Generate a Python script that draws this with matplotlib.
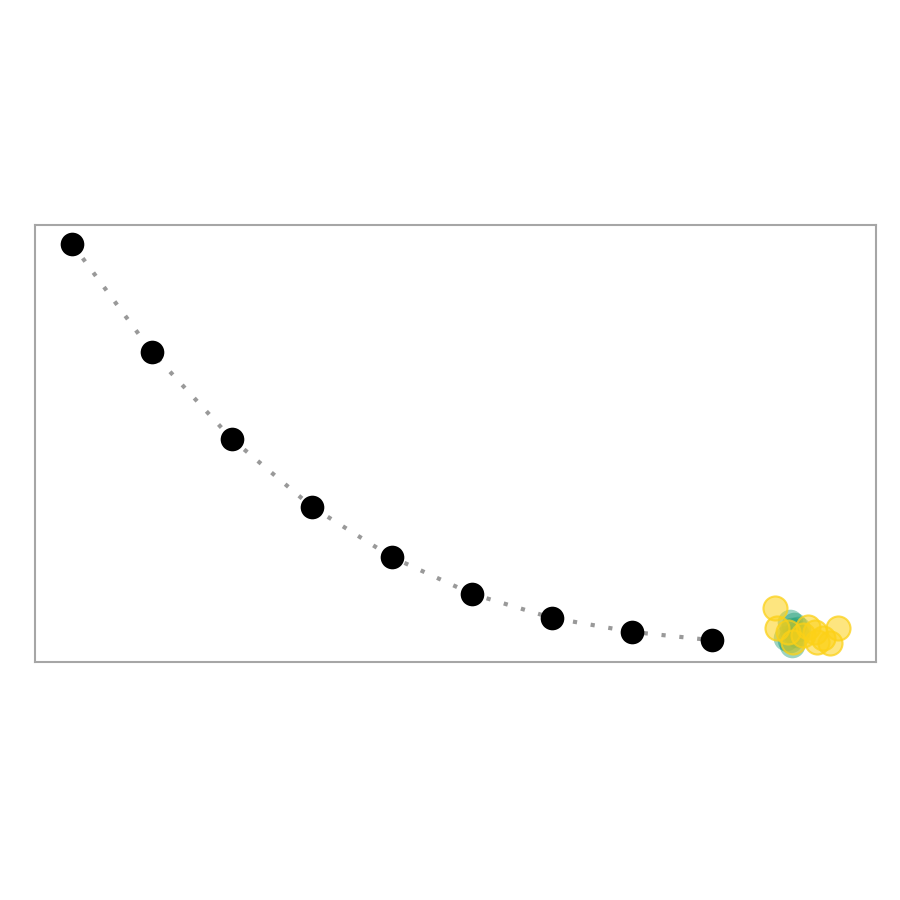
import matplotlib
matplotlib.use("Agg")
import matplotlib.pyplot as plt
import numpy as np

# Main trajectory (black points)
steps = [0, 1, 2, 3, 4, 5, 6, 7, 8]
values = [0.957, 0.709, 0.510, 0.355, 0.240, 0.156, 0.101, 0.069, 0.050]

# Cluster at the end: teal samples
teal_x = [8.975, 9.0, 9.0, 9.06, 8.925, 9.03, 8.98, 9.08]
teal_y = [0.092, 0.073, 0.040, 0.062, 0.055, 0.085, 0.050, 0.075]

# Cluster at the end: yellow samples
gold_x = [8.79, 8.81, 8.95, 9.01, 9.20, 9.29, 9.39, 9.475, 9.575, 9.31, 9.14]
gold_y = [0.124, 0.078, 0.069, 0.046, 0.080, 0.069, 0.055, 0.043, 0.078, 0.046, 0.062]

fig = plt.figure(figsize=(9, 9), dpi=100)
ax = fig.add_axes([0.039, 0.2644, 0.934, 0.4856])

ax.plot(steps, values, linestyle=(0, (1, 3.3)), color='#999999', linewidth=3,
        zorder=1)
ax.scatter(steps, values, s=290, color='black', zorder=3, linewidths=0)

ax.scatter(teal_x, teal_y, s=340, color='#229f78', alpha=0.45, linewidths=0, zorder=4)
ax.scatter(gold_x, gold_y, s=300, facecolor=(0.99, 0.82, 0.09, 0.55),
           edgecolor=(0.99, 0.82, 0.09, 0.75), linewidths=1.5, zorder=5)

ax.set_xlim(-0.4625, 10.05)
ax.set_ylim(0, 1.0)
ax.set_xticks([])
ax.set_yticks([])
for sp in ax.spines.values():
    sp.set_color('#a6a6a6')
    sp.set_linewidth(1.5)

fig.savefig('out.png', dpi=100)
